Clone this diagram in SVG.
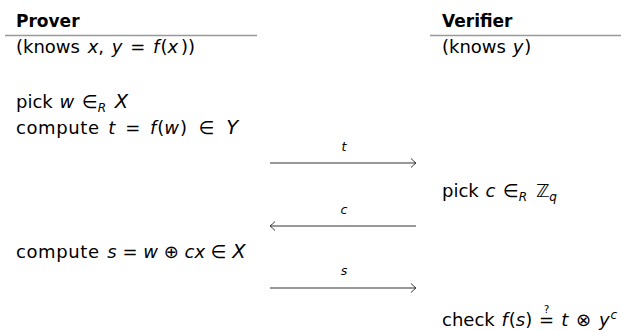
<svg xmlns="http://www.w3.org/2000/svg" width="621" height="330" viewBox="0 0 621 330">
<style>
text{font-family:"DejaVu Sans","Liberation Sans",sans-serif;font-size:18px;fill:#000}
.b{font-weight:bold;font-size:17px}
.i{font-style:italic}
.s{font-size:12px;font-style:italic}
.big{font-size:19.5px;font-style:italic}
.q{font-size:10.5px}
.w{letter-spacing:0.6px}
.lbl{font-size:12.5px;font-style:italic}
.rule{stroke:#999;stroke-width:1.3}
.conn{stroke:#333;stroke-width:1;fill:none}
</style>
<defs>
<marker id="ah" markerWidth="10" markerHeight="12" refX="8" refY="6" orient="auto" markerUnits="userSpaceOnUse">
<path d="M3,1.5 Q6,4.5 8,6 Q6,7.5 3,10.5" fill="none" stroke="#333" stroke-width="1"/>
</marker>
</defs>
<g id="prover">
<text x="16" y="27" class="b">Prover</text>
<line class="rule" x1="5" y1="35.5" x2="257" y2="35.5"/>
<text x="16" y="53">(knows <tspan class="i" dx="2">x</tspan>, <tspan class="i" dx="2">y</tspan> <tspan dx="2">=</tspan> <tspan class="i" dx="2">f</tspan><tspan dx="1">(</tspan><tspan class="i">x</tspan><tspan dx="3">))</tspan></text>
<text x="16" y="108">pick <tspan class="i" dx="1">w</tspan> <tspan dx="2">∈</tspan><tspan class="s" dy="4">R</tspan> <tspan class="big" dy="-4" dx="3">X</tspan></text>
<text x="16" y="134"><tspan class="w">compute</tspan> <tspan class="i" dx="3">t</tspan> <tspan dx="4">=</tspan> <tspan class="i" dx="4">f</tspan><tspan dx="1">(</tspan><tspan class="i">w</tspan><tspan dx="1">)</tspan> <tspan dx="6">∈</tspan> <tspan class="big" dx="6">Y</tspan></text>
<text x="16" y="258"><tspan class="w">compute</tspan> <tspan class="i" dx="2">s</tspan> = <tspan class="i">w</tspan> ⊕ <tspan class="i">cx</tspan> ∈ <tspan class="big">X</tspan></text>
</g>
<g id="verifier">
<text x="442" y="27" class="b">Verifier</text>
<line class="rule" x1="430" y1="35.5" x2="621" y2="35.5"/>
<text x="442" y="53">(knows <tspan class="i" dx="1">y</tspan><tspan dx="1">)</tspan></text>
<text x="442" y="197">pick <tspan class="i" dx="1">c</tspan> <tspan dx="2">∈</tspan><tspan class="s" dy="4">R</tspan> <tspan dy="-4" dx="3">ℤ</tspan><tspan class="s" dy="4">q</tspan></text>
<text x="442" y="326">check <tspan class="i" dx="1">f</tspan><tspan dx="1">(</tspan><tspan class="i">s</tspan>) <tspan dx="1">=</tspan><tspan class="q" dx="-10.3" dy="-13.5">?</tspan><tspan class="i" dx="12" dy="13.5">t</tspan> <tspan dx="2">⊗</tspan> <tspan class="i" dx="2">y</tspan><tspan class="s" dx="1" dy="-7">c</tspan></text>
</g>
<g id="connectors">
<line class="conn" x1="270" y1="163" x2="416" y2="163" marker-end="url(#ah)"/>
<text x="344" y="151" class="lbl" text-anchor="middle">t</text>
<line class="conn" x1="416" y1="226" x2="270" y2="226" marker-end="url(#ah)"/>
<text x="344" y="214" class="lbl" text-anchor="middle">c</text>
<line class="conn" x1="270" y1="288" x2="416" y2="288" marker-end="url(#ah)"/>
<text x="344" y="275" class="lbl" text-anchor="middle">s</text>
</g>
</svg>
